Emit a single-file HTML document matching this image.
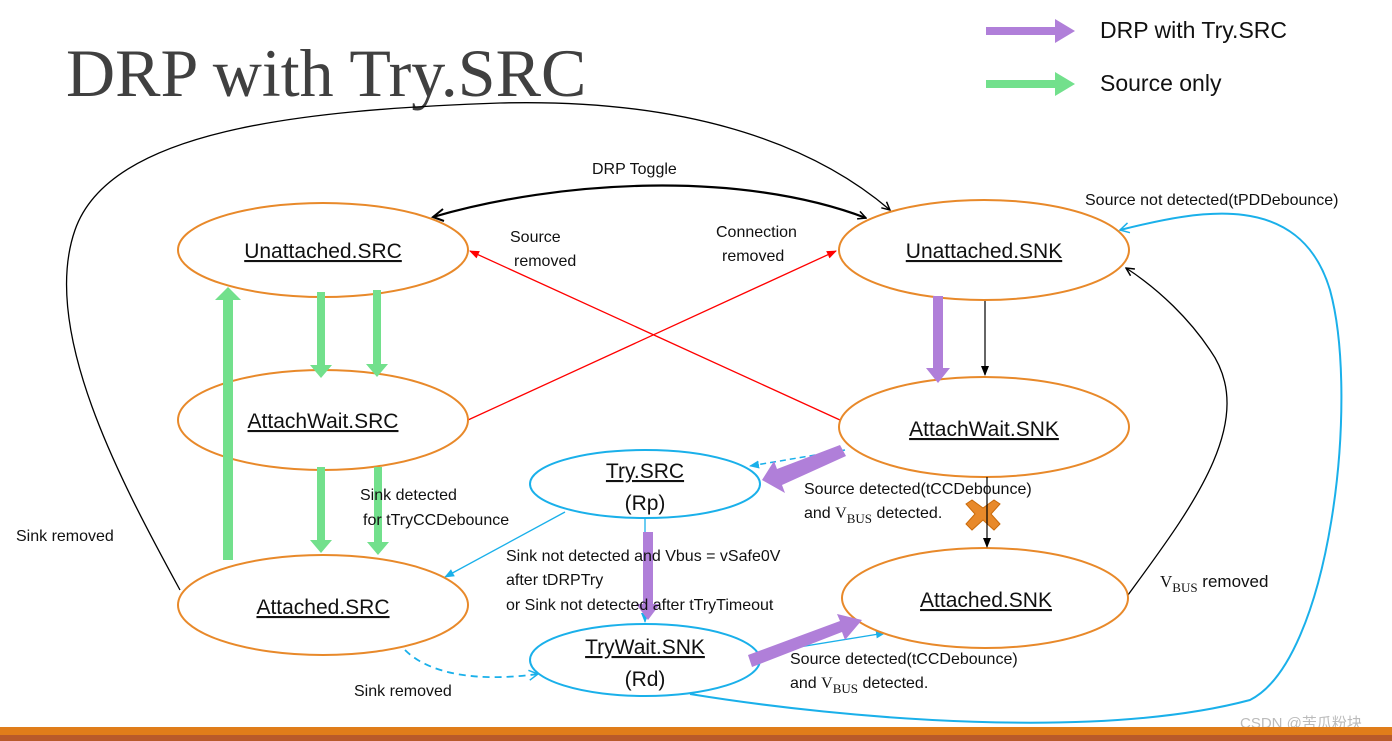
<!DOCTYPE html>
<html><head><meta charset="utf-8"><style>
html,body{margin:0;padding:0;background:#fff;}
svg{display:block;}
text{font-family:"Liberation Sans","DejaVu Sans",sans-serif;fill:#111;}
.n{font-size:21px;text-anchor:middle;text-decoration:underline;}
.l{font-size:16px;}
</style></head><body>
<svg width="1392" height="741" viewBox="0 0 1392 741" xmlns="http://www.w3.org/2000/svg">
<defs>
<marker id="ab" markerWidth="10" markerHeight="10" refX="9" refY="5" orient="auto" markerUnits="userSpaceOnUse"><path d="M1,1 L9,5 L1,9" fill="none" stroke="#000" stroke-width="1.5"/></marker>
<marker id="abf" markerWidth="10" markerHeight="10" refX="9" refY="5" orient="auto" markerUnits="userSpaceOnUse"><path d="M0,1 L10,5 L0,9z" fill="#000"/></marker>
<marker id="ar" markerWidth="10" markerHeight="10" refX="9" refY="5" orient="auto" markerUnits="userSpaceOnUse"><path d="M0,1 L10,5 L0,9z" fill="#f00"/></marker>
<marker id="ac" markerWidth="10" markerHeight="10" refX="9" refY="5" orient="auto" markerUnits="userSpaceOnUse"><path d="M0,1 L10,5 L0,9z" fill="#1ab0ea"/></marker>
<marker id="aco" markerWidth="12" markerHeight="12" refX="10" refY="6" orient="auto" markerUnits="userSpaceOnUse"><path d="M1,1 L10,6 L1,11" fill="none" stroke="#1ab0ea" stroke-width="1.5"/></marker>
</defs>

<text x="66" y="96" style="font-family:'Liberation Serif',serif;font-size:68px;fill:#404040">DRP with Try.SRC</text>

<!-- legend -->
<polygon points="986,27 1055,27 1055,19 1075,31 1055,43 1055,35 986,35" fill="#b07fd9"/>
<text x="1100" y="38" style="font-size:23px">DRP with Try.SRC</text>
<polygon points="986,80 1055,80 1055,72 1075,84 1055,96 1055,88 986,88" fill="#72e08c"/>
<text x="1100" y="91" style="font-size:23px">Source only</text>

<!-- big black loop -->
<path d="M180,590 C120,480 40,330 75,230 C110,130 300,110 500,103 C700,98 820,150 890,210" fill="none" stroke="#000" stroke-width="1.3" marker-end="url(#ab)"/>
<text x="16" y="541" class="l">Sink removed</text>
<!-- DRP toggle -->
<path d="M433,217 C560,180 740,170 866,218" fill="none" stroke="#000" stroke-width="2.2" marker-end="url(#ab)"/>
<polyline points="443,209 433,217 444,221" fill="none" stroke="#000" stroke-width="2"/>
<text x="592" y="174" class="l">DRP Toggle</text>

<!-- red lines -->
<line x1="840" y1="420" x2="470" y2="251" stroke="#f00" stroke-width="1.3" marker-end="url(#ar)"/>
<line x1="468" y1="420" x2="836" y2="251" stroke="#f00" stroke-width="1.3" marker-end="url(#ar)"/>
<text x="510" y="242" class="l">Source</text>
<text x="514" y="266" class="l">removed</text>
<text x="716" y="237" class="l">Connection</text>
<text x="722" y="261" class="l">removed</text>

<!-- black arrows right side -->
<line x1="985" y1="297" x2="985" y2="375" stroke="#000" stroke-width="1.2" marker-end="url(#abf)"/>
<path d="M1128,595 C1190,510 1260,420 1210,350 C1190,320 1160,290 1126,268" fill="none" stroke="#000" stroke-width="1.3" marker-end="url(#ab)"/>
<text x="1160" y="587" style="font-size:17px"><tspan style="font-family:'Liberation Serif',serif">V</tspan><tspan dy="5" style="font-family:'Liberation Serif',serif;font-size:13px">BUS</tspan><tspan dy="-5"> removed</tspan></text>

<!-- cyan -->
<path d="M690,694 C850,720 1100,740 1250,700 C1330,660 1360,400 1330,290 C1300,190 1200,210 1120,230" fill="none" stroke="#1ab0ea" stroke-width="2" marker-end="url(#aco)"/>
<text x="1085" y="205" class="l">Source not detected(tPDDebounce)</text>
<line x1="845" y1="450" x2="750" y2="466" stroke="#1ab0ea" stroke-width="1.5" stroke-dasharray="6,4" marker-end="url(#ac)"/>
<line x1="565" y1="512" x2="445" y2="577" stroke="#1ab0ea" stroke-width="1.3" marker-end="url(#ac)"/>
<line x1="645" y1="518" x2="645" y2="622" stroke="#1ab0ea" stroke-width="1.3" marker-end="url(#ac)"/>
<line x1="750" y1="655" x2="885" y2="633" stroke="#1ab0ea" stroke-width="1.3" marker-end="url(#ac)"/>
<path d="M405,650 C430,675 480,682 538,674" fill="none" stroke="#1ab0ea" stroke-width="1.8" stroke-dasharray="7,5" marker-end="url(#aco)"/>
<text x="354" y="696" class="l">Sink removed</text>

<!-- ellipses -->
<g fill="#fff" stroke="#e8892a" stroke-width="2">
<ellipse cx="323" cy="250" rx="145" ry="47"/>
<ellipse cx="323" cy="420" rx="145" ry="50"/>
<ellipse cx="323" cy="605" rx="145" ry="50"/>
<ellipse cx="984" cy="250" rx="145" ry="50"/>
<ellipse cx="984" cy="427" rx="145" ry="50"/>
<ellipse cx="985" cy="598" rx="143" ry="50"/>
</g>
<g fill="#fff" stroke="#1ab0ea" stroke-width="2">
<ellipse cx="645" cy="484" rx="115" ry="34"/>
<ellipse cx="645" cy="660" rx="115" ry="36"/>
</g>
<text x="323" y="258" class="n">Unattached.SRC</text>
<text x="323" y="428" class="n">AttachWait.SRC</text>
<text x="323" y="614" class="n">Attached.SRC</text>
<text x="984" y="258" class="n">Unattached.SNK</text>
<text x="984" y="436" class="n">AttachWait.SNK</text>
<text x="986" y="607" class="n">Attached.SNK</text>
<text x="645" y="478" class="n">Try.SRC</text>
<text x="645" y="510" style="font-size:21px;text-anchor:middle">(Rp)</text>
<text x="645" y="654" class="n">TryWait.SNK</text>
<text x="645" y="686" style="font-size:21px;text-anchor:middle">(Rd)</text>

<!-- green arrows -->
<g fill="#72e08c">
<polygon points="317,292 325,292 325,365 332,365 321,378 310,365 317,365"/>
<polygon points="373,290 381,290 381,364 388,364 377,377 366,364 373,364"/>
<polygon points="317,467 325,467 325,540 332,540 321,553 310,540 317,540"/>
<polygon points="374,467 382,467 382,542 389,542 378,555 367,542 374,542"/>
<polygon points="223,560 233,560 233,300 241,300 228,287 215,300 223,300"/>
</g>
<!-- purple arrows -->
<g fill="#b07fd9">
<polygon points="933,296 943,296 943,368 950,368 938,383 926,368 933,368"/>
<polygon points="643,532 653,532 653,604 660,604 648,620 636,604 643,604"/>
<polygon points="840,445 846,456 782,485 785,493 762,480 774,461 777,469"/>
<polygon points="748,655 752,667 842,632 845,640 862,620 837,614 840,621"/>
</g>
<!-- orange X -->
<g stroke="#c96a0a" stroke-width="1" fill="#e8892a">
<polygon points="966,504 972,500 983,508 994,500 1000,504 991,514 1000,524 994,530 983,520 972,530 966,524 975,514"/>
</g>
<line x1="987" y1="477" x2="987" y2="547" stroke="#000" stroke-width="1.2" marker-end="url(#abf)"/>

<!-- labels -->
<text x="360" y="500" class="l">Sink detected</text>
<text x="363" y="525" class="l">for tTryCCDebounce</text>
<text x="506" y="561" class="l">Sink not detected and Vbus = vSafe0V</text>
<text x="506" y="585" class="l">after tDRPTry</text>
<text x="506" y="610" class="l">or Sink not detected after tTryTimeout</text>
<text x="804" y="494" class="l">Source detected(tCCDebounce)</text>
<text x="804" y="518" class="l">and <tspan style="font-family:'Liberation Serif',serif">V</tspan><tspan dy="5" style="font-family:'Liberation Serif',serif;font-size:13px">BUS</tspan><tspan dy="-5"> detected.</tspan></text>
<text x="790" y="664" class="l">Source detected(tCCDebounce)</text>
<text x="790" y="688" class="l">and <tspan style="font-family:'Liberation Serif',serif">V</tspan><tspan dy="5" style="font-family:'Liberation Serif',serif;font-size:13px">BUS</tspan><tspan dy="-5"> detected.</tspan></text>
<text x="1240" y="728" style="font-size:15px;fill:#bbb;font-family:'Liberation Sans','Noto Sans CJK SC',sans-serif">CSDN @苦瓜粉块</text>

<rect x="0" y="727" width="1392" height="8" fill="#e07d1a"/>
<rect x="0" y="735" width="1392" height="6" fill="#b85a2a"/>
</svg>
</body></html>
